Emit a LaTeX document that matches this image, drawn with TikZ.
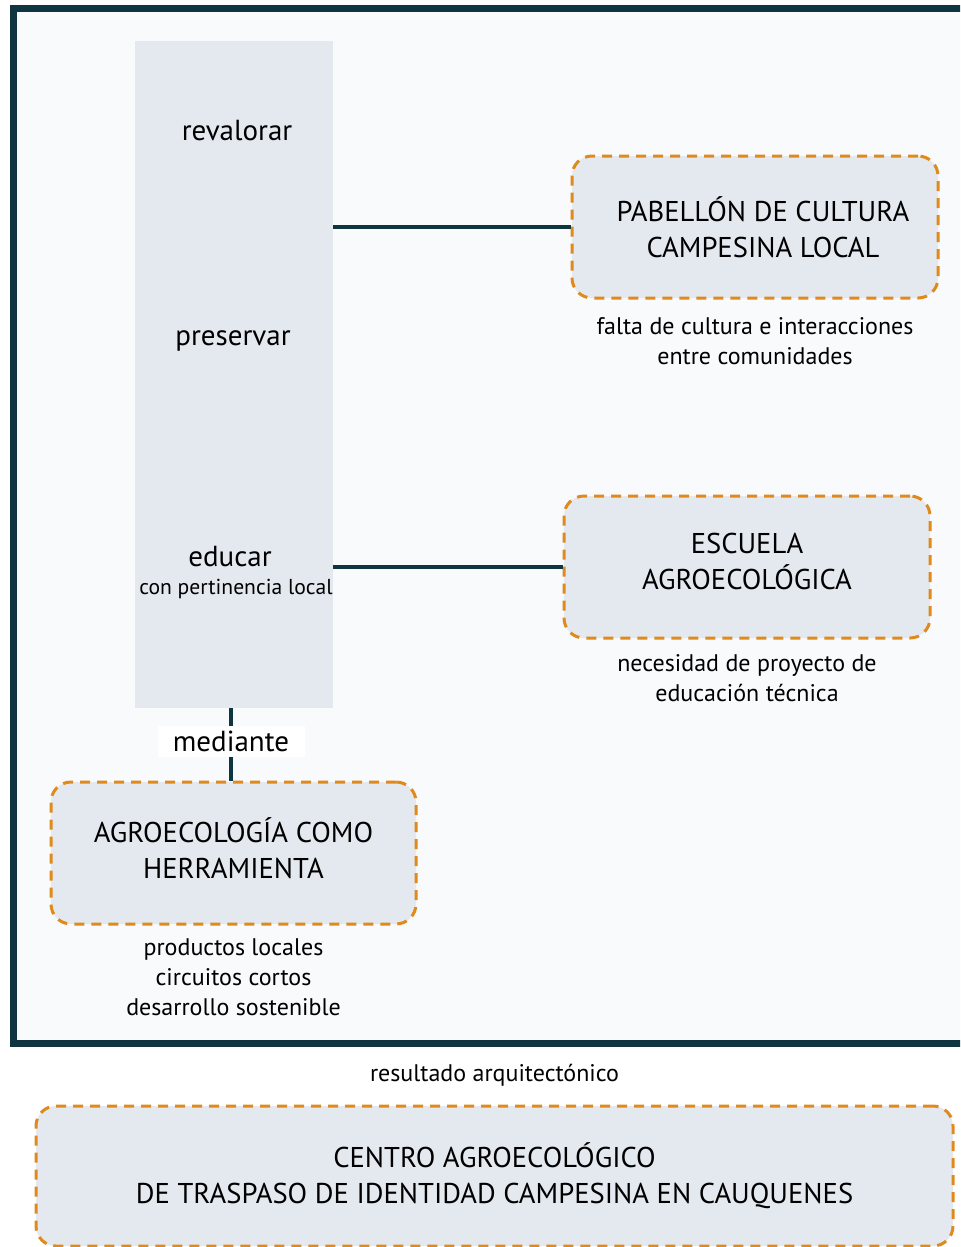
\documentclass[tikz,border=0pt]{standalone}
\usepackage{fontspec}
\setmainfont{PT Sans}
\usetikzlibrary{positioning}
\definecolor{frameteal}{HTML}{0E3540}
\definecolor{dashorange}{HTML}{E08A1C}
\definecolor{boxgray}{HTML}{E4E9F0}
\definecolor{paperbg}{HTML}{F8FAFC}
\tikzset{
  diag/.style={x=0.5pt,y=-0.5pt,every node/.style={inner sep=0pt,font=\fontsize{14.5}{17}\selectfont}},
  goal/.style={draw=dashorange,line width=1.5pt,dash pattern=on 5pt off 3.5pt,fill=boxgray,
    rounded corners=10pt,minimum width=183pt,minimum height=71pt},
  goaltext/.style={align=center,font=\fontsize{14.3}{18}\selectfont},
  note/.style={align=center,font=\fontsize{12}{15}\selectfont},
  link/.style={draw=frameteal,line width=2.25pt},
}

\begin{document}
\begin{tikzpicture}[diag]
  \useasboundingbox (0,0) rectangle (960,1247);
  \clip (0,0) rectangle (960,1247);
  % marco
  \fill[paperbg] (13.5,8.5) rectangle (980,1043.5);
  \draw[frameteal,line width=3.25pt] (980,8.5) -- (13.5,8.5) -- (13.5,1043.5) -- (980,1043.5);
  % columna de acciones
  \node[fill=boxgray,minimum width=99pt,minimum height=333.5pt] (col) at (234,374.5) {};
  \node (rev) at (237,131) {revalorar};
  \node (pres) at (233,341) {preservar};
  \node (edu) at (230,557) {educar};
  \node[font=\fontsize{10.8}{13}\selectfont] (edulocal) at (236,589) {con pertinencia local};
  % proyectos
  \node[goal,label={[goaltext,xshift=4pt]center:{PABELLÓN DE CULTURA\\CAMPESINA LOCAL}}] (pav) at (755,227) {};
  \node[note,below=9pt of pav] (pavnote) {falta de cultura e interacciones\\entre comunidades};
  \node[goal,label={[goaltext,yshift=3pt]center:{ESCUELA\\AGROECOLÓGICA}}] (esc) at (747,567) {};
  \node[note,below=7.5pt of esc] (escnote) {necesidad de proyecto de\\educación técnica};
  \node[goal,minimum width=182.5pt,label={[goaltext,yshift=2.5pt]center:{AGROECOLOGÍA COMO\\HERRAMIENTA}}] (agro) at (233.5,853) {};
  \node[note,below=6.5pt of agro] (agronote) {productos locales\\circuitos cortos\\desarrollo sostenible};
  \path[link] (col.east |- pav.west) -- (pav.west)
              (col.east |- esc.west) -- (esc.west);
  \path[link] (col.south -| 231,0) -- node[fill=white,minimum width=73.5pt,minimum height=15.5pt,yshift=1.5pt]{mediante} (agro.north -| 231,0);
  % resultado
  \node[goal,minimum width=458.5pt,minimum height=70pt,
    label={[goaltext]center:{CENTRO AGROECOLÓGICO\\DE TRASPASO DE IDENTIDAD CAMPESINA EN CAUQUENES}}] (centro) at (494.5,1176) {};
  \node[note,above=9pt of centro] (result) {resultado arquitectónico};
\end{tikzpicture}
\end{document}
